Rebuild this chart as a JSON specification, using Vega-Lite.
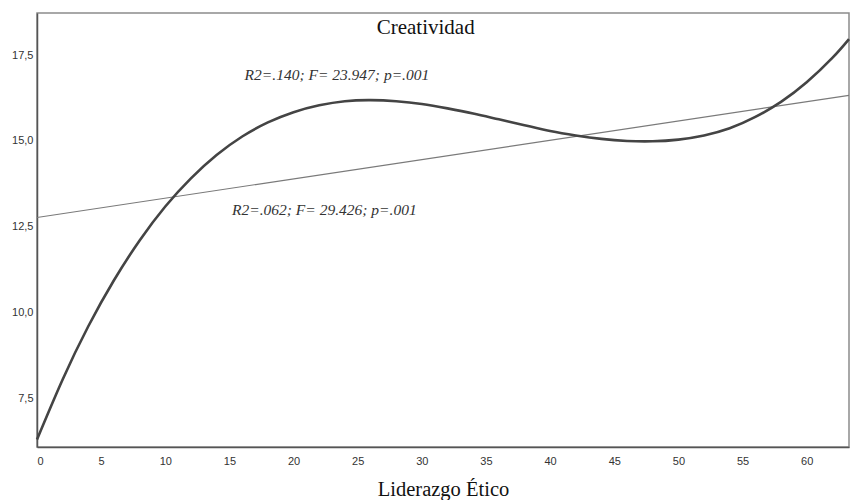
{
  "$schema": "https://vega.github.io/schema/vega-lite/v6.json",
  "width": 812,
  "height": 434,
  "autosize": {"type": "none"},
  "padding": {"left": 37, "top": 13, "right": 8, "bottom": 53},
  "background": "white",
  "config": {"view": {"stroke": "#8c8c8c", "strokeWidth": 1.5}, "axis": {"grid": false}},
  "datasets": {
    "cubic": [
      {"x": 0, "y": 6.30}, {"x": 2, "y": 8.05}, {"x": 4, "y": 9.60}, {"x": 6, "y": 10.94},
      {"x": 8, "y": 12.10}, {"x": 10, "y": 13.09}, {"x": 12, "y": 13.91}, {"x": 14, "y": 14.59},
      {"x": 16, "y": 15.13}, {"x": 18, "y": 15.54}, {"x": 20, "y": 15.84}, {"x": 22, "y": 16.04},
      {"x": 24, "y": 16.16}, {"x": 26, "y": 16.19}, {"x": 28, "y": 16.16}, {"x": 30, "y": 16.08},
      {"x": 32, "y": 15.95}, {"x": 34, "y": 15.80}, {"x": 36, "y": 15.63}, {"x": 38, "y": 15.46},
      {"x": 40, "y": 15.29}, {"x": 42, "y": 15.16}, {"x": 44, "y": 15.06}, {"x": 46, "y": 15.00},
      {"x": 48, "y": 14.99}, {"x": 50, "y": 15.04}, {"x": 52, "y": 15.16}, {"x": 54, "y": 15.37},
      {"x": 56, "y": 15.70}, {"x": 58, "y": 16.14}, {"x": 60, "y": 16.71}, {"x": 62, "y": 17.42},
      {"x": 63.3, "y": 17.97}
    ],
    "linear": [{"x": 0, "y": 12.77}, {"x": 63.3, "y": 16.33}],
    "notes": [
      {"label": "Creatividad", "x": 30.3, "y": 18.29, "kind": "title"},
      {"label": "R2=.140; F= 23.947; p=.001", "x": 23.38, "y": 16.93, "kind": "fit"},
      {"label": "R2=.062; F= 29.426; p=.001", "x": 22.4, "y": 12.98, "kind": "fit"}
    ]
  },
  "layer": [
    {
      "data": {"name": "linear"},
      "mark": {"type": "line", "color": "#7a7a7a", "strokeWidth": 1.1},
      "encoding": {
        "x": {
          "field": "x", "type": "quantitative",
          "scale": {"domain": [0, 63.3], "nice": false, "zero": false},
          "axis": {
            "values": [0, 5, 10, 15, 20, 25, 30, 35, 40, 45, 50, 55, 60],
            "ticks": false, "labelPadding": 8, "labelFont": "Liberation Sans", "labelFontSize": 11,
            "labelColor": "#333333", "domainColor": "#555555", "domainWidth": 1.5,
            "title": "Liderazgo Ético", "titleFont": "Liberation Serif", "titleFontSize": 20.5,
            "titleFontWeight": "normal", "titleColor": "#111111", "titlePadding": 13
          }
        },
        "y": {
          "field": "y", "type": "quantitative",
          "scale": {"domain": [6.08, 18.73], "nice": false, "zero": false},
          "axis": {
            "values": [7.5, 10, 12.5, 15, 17.5],
            "labelExpr": "replace(format(datum.value, '.1f'), '.', ',')",
            "ticks": false, "labelPadding": 4, "labelFont": "Liberation Sans", "labelFontSize": 11,
            "labelColor": "#333333", "domainColor": "#555555", "domainWidth": 1.5, "title": null
          }
        }
      }
    },
    {
      "data": {"name": "cubic"},
      "mark": {"type": "line", "color": "#444444", "strokeWidth": 2.6, "interpolate": "natural"},
      "encoding": {
        "x": {"field": "x", "type": "quantitative"},
        "y": {"field": "y", "type": "quantitative"}
      }
    },
    {
      "data": {"name": "notes"},
      "transform": [{"filter": "datum.kind === 'title'"}],
      "mark": {"type": "text", "font": "Liberation Serif", "fontSize": 21, "color": "#111111"},
      "encoding": {
        "x": {"field": "x", "type": "quantitative"},
        "y": {"field": "y", "type": "quantitative"},
        "text": {"field": "label"}
      }
    },
    {
      "data": {"name": "notes"},
      "transform": [{"filter": "datum.kind === 'fit'"}],
      "mark": {"type": "text", "font": "Liberation Serif", "fontSize": 15.5, "fontStyle": "italic", "color": "#333333"},
      "encoding": {
        "x": {"field": "x", "type": "quantitative"},
        "y": {"field": "y", "type": "quantitative"},
        "text": {"field": "label"}
      }
    }
  ]
}
